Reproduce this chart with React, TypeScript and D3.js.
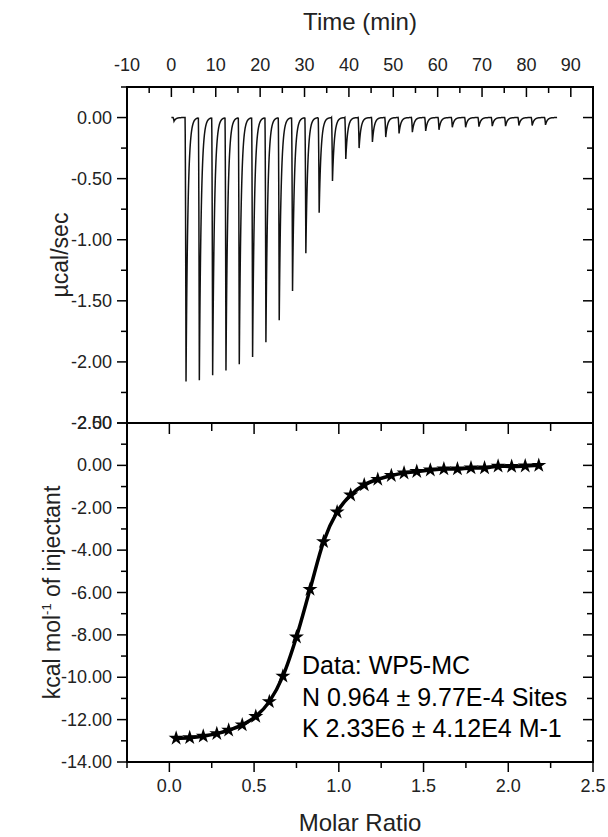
import React from "react";
import * as d3 from "d3";

// ---------- data ----------
const timeTickValues = [-10, 0, 10, 20, 30, 40, 50, 60, 70, 80, 90];
const timeTickLabels = ["-10", "0", "10", "20", "30", "40", "50", "60", "70", "80", "90"];

const powerTickValues = [0, -0.5, -1, -1.5, -2, -2.5];
const powerTickLabels = ["0.00", "-0.50", "-1.00", "-1.50", "-2.00", "-2.50"];

const heatTickValues = [2, 0, -2, -4, -6, -8, -10, -12, -14];
const heatTickLabels = ["2.00", "0.00", "-2.00", "-4.00", "-6.00", "-8.00", "-10.00", "-12.00", "-14.00"];

const ratioTickValues = [0, 0.5, 1, 1.5, 2, 2.5];
const ratioTickLabels = ["0.0", "0.5", "1.0", "1.5", "2.0", "2.5"];

// raw thermogram: injection times (min) and peak minima (µcal/sec)
const injectionTimes = [
  0.6, 3.3, 6.3, 9.3, 12.3, 15.3, 18.3, 21.3, 24.3, 27.3, 30.3, 33.3, 36.3, 39.3, 42.3,
  45.3, 48.3, 51.3, 54.3, 57.3, 60.3, 63.3, 66.3, 69.3, 72.3, 75.3, 78.3, 81.3, 84.3,
];
const peakMinima = [
  -0.03, -2.16, -2.15, -2.11, -2.07, -2.02, -1.96, -1.84, -1.66, -1.42, -1.11, -0.78, -0.52,
  -0.34, -0.25, -0.2, -0.16, -0.13, -0.12, -0.11, -0.1, -0.08, -0.08, -0.075, -0.07, -0.07,
  -0.065, -0.065, -0.06,
];
const runEnd = 86.9;

// integrated heats
const molarRatio = [
  0.04, 0.12, 0.2, 0.28, 0.35, 0.43, 0.51, 0.59, 0.67, 0.75, 0.83, 0.91, 0.99, 1.07, 1.15,
  1.23, 1.31, 1.385, 1.46, 1.54, 1.62, 1.7, 1.78, 1.86, 1.94, 2.02, 2.1, 2.18,
];
const heat = [
  -12.88, -12.85, -12.78, -12.66, -12.5, -12.25, -11.85, -11.15, -9.95, -8.1, -5.85, -3.6,
  -2.2, -1.4, -0.92, -0.66, -0.48, -0.36, -0.29, -0.22, -0.17, -0.17, -0.12, -0.12, -0.04,
  -0.05, -0.03, 0.0,
];

const annotationLines = ["Data: WP5-MC", "N 0.964 \u00B1 9.77E-4 Sites", "K 2.33E6 \u00B1 4.12E4 M-1"];

// ---------- layout ----------
const W = 608;
const H = 837;
const L = 127;
const R = 593;
const T = 87;
const MID = 423;
const B = 762;
const FONT = "Arial, 'Liberation Sans', sans-serif";

export default function App() {
  const xTime = d3.scaleLinear().domain([-10, 95]).range([L, R]);
  const yPow = d3.scaleLinear().domain([-2.5, 0.25]).range([MID, T]);
  const xMR = d3.scaleLinear().domain([-0.25, 2.5]).range([L, R]);
  const yHeat = d3.scaleLinear().domain([-14, 2]).range([B, MID]);

  // thermogram trace
  const trace: [number, number][] = [[0, 0]];
  injectionTimes.forEach((ti, i) => {
    const d = peakMinima[i];
    const next = i + 1 < injectionTimes.length ? injectionTimes[i + 1] : runEnd;
    for (let k = 0; k <= 6; k++) {
      const f = k / 6;
      trace.push([ti - 0.22 + 0.22 * f, d * Math.pow(f, 1.6)]);
    }
    const endT = i + 1 < injectionTimes.length ? next - 0.22 : runEnd;
    for (let t = ti + 0.03; t < endT; t += 0.03) {
      trace.push([t, d * Math.exp(-(t - ti) / 0.42)]);
    }
  });
  trace.push([runEnd, 0]);
  const traceLine = d3
    .line<[number, number]>()
    .x((p) => xTime(p[0]))
    .y((p) => yPow(p[1]));

  const pts = molarRatio.map((m, i) => [m, heat[i]] as [number, number]);
  const fitLine = d3
    .line<[number, number]>()
    .x((p) => xMR(p[0]))
    .y((p) => yHeat(p[1]))
    .curve(d3.curveMonotoneX);
  const star = d3.symbol().type(d3.symbolStar).size(70)() as string;

  const timeMinor = d3.range(-5, 95, 10);
  const powMinor = [0.25, -0.25, -0.75, -1.25, -1.75, -2.25];
  const heatMinor = [1, -1, -3, -5, -7, -9, -11, -13];
  const mrMinor = [-0.25, 0.25, 0.75, 1.25, 1.75, 2.25];

  const tick = { stroke: "#000", strokeWidth: 1.5 };
  const label = { fontFamily: FONT, fontSize: 18, fill: "#222" };

  return (
    <svg
      width={W}
      height={H}
      style={{ display: "block", position: "absolute", left: 0, top: 0, background: "#fff" }}
    >
      <rect x={0} y={0} width={W} height={H} fill="#fff" />

      {/* Top axis title and labels */}
      <text x={(L + R) / 2} y={30} textAnchor="middle" fontFamily={FONT} fontSize={24} fill="#222">
        Time (min)
      </text>
      {timeTickValues.map((v, i) => (
        <g key={"tt" + v}>
          <line x1={xTime(v)} x2={xTime(v)} y1={T} y2={T + 10} {...tick} />
          <text x={xTime(v)} y={71} textAnchor="middle" {...label}>
            {timeTickLabels[i]}
          </text>
        </g>
      ))}
      {timeMinor.map((v) => (
        <line key={"tm" + v} x1={xTime(v)} x2={xTime(v)} y1={T} y2={T + 6} {...tick} />
      ))}

      {/* Top panel y axis */}
      {powerTickValues.map((v, i) => (
        <g key={"py" + v}>
          <line x1={L - 10} x2={L} y1={yPow(v)} y2={yPow(v)} {...tick} />
          <line x1={R - 10} x2={R} y1={yPow(v)} y2={yPow(v)} {...tick} />
          <text x={112} y={yPow(v) + 6} textAnchor="end" {...label}>
            {powerTickLabels[i]}
          </text>
        </g>
      ))}
      {powMinor.map((v) => (
        <g key={"pm" + v}>
          <line x1={L - 6} x2={L} y1={yPow(v)} y2={yPow(v)} {...tick} />
          <line x1={R - 6} x2={R} y1={yPow(v)} y2={yPow(v)} {...tick} />
        </g>
      ))}
      <text
        transform={`translate(68,${(T + MID) / 2}) rotate(-90)`}
        textAnchor="middle"
        fontFamily={FONT}
        fontSize={23}
        fill="#222"
      >
        µcal/sec
      </text>

      {/* thermogram */}
      <path d={traceLine(trace) || ""} fill="none" stroke="#111" strokeWidth={1.5} />

      {/* Bottom panel y axis */}
      {heatTickValues.map((v, i) => (
        <g key={"hy" + v}>
          <line x1={L - 10} x2={L} y1={yHeat(v)} y2={yHeat(v)} {...tick} />
          <line x1={R - 10} x2={R} y1={yHeat(v)} y2={yHeat(v)} {...tick} />
          <text x={112} y={yHeat(v) + 6} textAnchor="end" {...label}>
            {heatTickLabels[i]}
          </text>
        </g>
      ))}
      {heatMinor.map((v) => (
        <g key={"hm" + v}>
          <line x1={L - 6} x2={L} y1={yHeat(v)} y2={yHeat(v)} {...tick} />
          <line x1={R - 6} x2={R} y1={yHeat(v)} y2={yHeat(v)} {...tick} />
        </g>
      ))}
      <text
        transform={`translate(60,${(MID + B) / 2}) rotate(-90)`}
        textAnchor="middle"
        fontFamily={FONT}
        fontSize={23}
        fill="#222"
      >
        kcal mol
        <tspan fontSize={13} dy={-9}>
          -1
        </tspan>
        <tspan dy={9}> of injectant</tspan>
      </text>

      {/* Molar ratio axis */}
      {ratioTickValues.map((v, i) => (
        <g key={"rx" + v}>
          <line x1={xMR(v)} x2={xMR(v)} y1={B} y2={B + 10} {...tick} />
          <line x1={xMR(v)} x2={xMR(v)} y1={MID} y2={MID + 11} {...tick} />
          <text x={xMR(v)} y={792} textAnchor="middle" {...label}>
            {ratioTickLabels[i]}
          </text>
        </g>
      ))}
      {mrMinor.map((v) => (
        <g key={"rm" + v}>
          <line x1={xMR(v)} x2={xMR(v)} y1={B} y2={B + 6} {...tick} />
          <line x1={xMR(v)} x2={xMR(v)} y1={MID} y2={MID + 8} {...tick} />
        </g>
      ))}
      <text x={(L + R) / 2} y={831} textAnchor="middle" fontFamily={FONT} fontSize={24} fill="#222">
        Molar Ratio
      </text>

      {/* fit curve and points */}
      <path
        d={fitLine(pts) || ""}
        fill="none"
        stroke="#000"
        strokeWidth={3.5}
        strokeLinejoin="round"
        strokeLinecap="round"
      />
      {pts.map((p, i) => (
        <path key={"s" + i} d={star} transform={`translate(${xMR(p[0])},${yHeat(p[1])})`} fill="#000" />
      ))}

      {/* annotation */}
      {annotationLines.map((s, i) => (
        <text key={"a" + i} x={302} y={674 + i * 31.5} fontFamily={FONT} fontSize={25} fill="#000">
          {s}
        </text>
      ))}

      {/* frames */}
      <rect x={L} y={T} width={R - L} height={B - T} fill="none" stroke="#000" strokeWidth={2} />
      <line x1={L} x2={R} y1={MID} y2={MID} stroke="#000" strokeWidth={2} />
    </svg>
  );
}
